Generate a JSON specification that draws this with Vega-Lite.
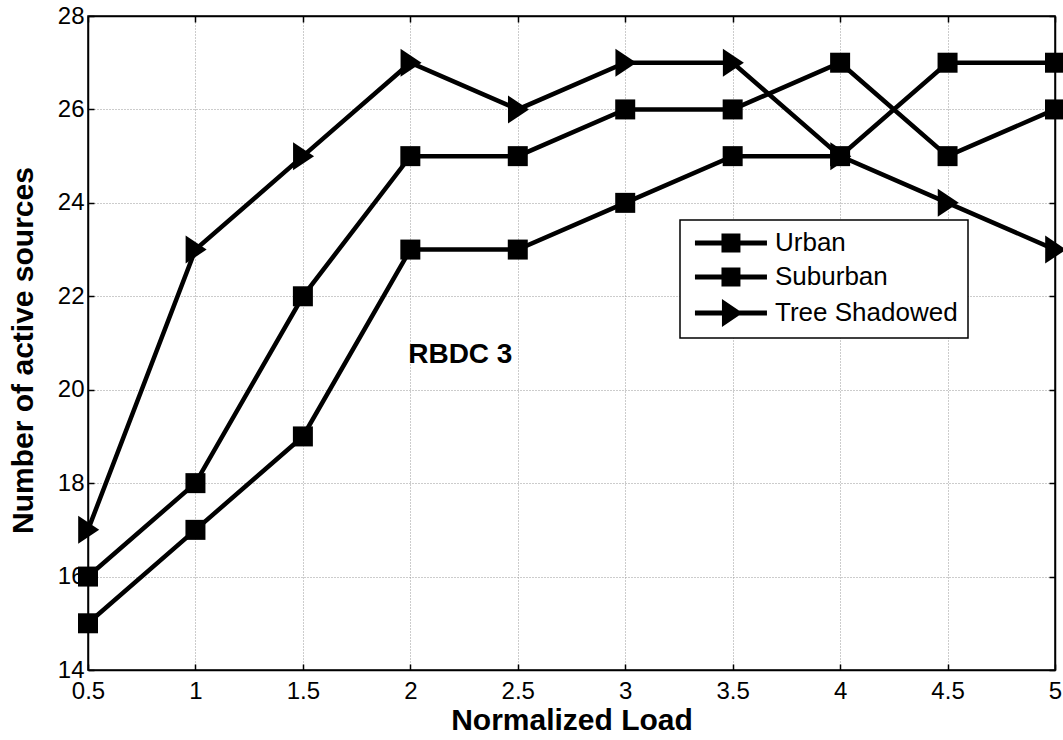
{
  "$schema": "https://vega.github.io/schema/vega-lite/v6.json",
  "width": 967,
  "height": 654,
  "autosize": {"type": "none"},
  "padding": {"left": 88, "top": 16, "right": 8, "bottom": 70},
  "background": "white",
  "config": {
    "font": "Liberation Sans",
    "view": {"stroke": "black", "strokeWidth": 1.5},
    "axis": {
      "labelFont": "Liberation Sans", "labelFontSize": 24, "labelColor": "black",
      "titleFont": "Liberation Sans", "titleFontSize": 30, "titleFontWeight": "bold", "titleColor": "black",
      "tickColor": "black", "tickSize": -6, "tickWidth": 1.5,
      "domainColor": "black", "domainWidth": 1.5,
      "gridColor": "#999999", "gridDash": [1, 2], "gridWidth": 1, "gridOpacity": 1
    },
    "legend": {"strokeWidth": 1.5}
  },
  "datasets": {
    "main": [
      {"load": 0.5, "value": 16, "series": "Urban"},
      {"load": 1, "value": 18, "series": "Urban"},
      {"load": 1.5, "value": 22, "series": "Urban"},
      {"load": 2, "value": 25, "series": "Urban"},
      {"load": 2.5, "value": 25, "series": "Urban"},
      {"load": 3, "value": 26, "series": "Urban"},
      {"load": 3.5, "value": 26, "series": "Urban"},
      {"load": 4, "value": 27, "series": "Urban"},
      {"load": 4.5, "value": 25, "series": "Urban"},
      {"load": 5, "value": 26, "series": "Urban"},
      {"load": 0.5, "value": 15, "series": "Suburban"},
      {"load": 1, "value": 17, "series": "Suburban"},
      {"load": 1.5, "value": 19, "series": "Suburban"},
      {"load": 2, "value": 23, "series": "Suburban"},
      {"load": 2.5, "value": 23, "series": "Suburban"},
      {"load": 3, "value": 24, "series": "Suburban"},
      {"load": 3.5, "value": 25, "series": "Suburban"},
      {"load": 4, "value": 25, "series": "Suburban"},
      {"load": 4.5, "value": 27, "series": "Suburban"},
      {"load": 5, "value": 27, "series": "Suburban"},
      {"load": 0.5, "value": 17, "series": "Tree Shadowed"},
      {"load": 1, "value": 23, "series": "Tree Shadowed"},
      {"load": 1.5, "value": 25, "series": "Tree Shadowed"},
      {"load": 2, "value": 27, "series": "Tree Shadowed"},
      {"load": 2.5, "value": 26, "series": "Tree Shadowed"},
      {"load": 3, "value": 27, "series": "Tree Shadowed"},
      {"load": 3.5, "value": 27, "series": "Tree Shadowed"},
      {"load": 4, "value": 25, "series": "Tree Shadowed"},
      {"load": 4.5, "value": 24, "series": "Tree Shadowed"},
      {"load": 5, "value": 23, "series": "Tree Shadowed"}
    ],
    "note": [{"x": 1.99, "y": 20.75, "label": "RBDC 3"}]
  },
  "layer": [
    {
      "data": {"name": "main"},
      "mark": {"type": "line", "color": "black", "strokeWidth": 4.5},
      "encoding": {
        "x": {
          "field": "load", "type": "quantitative",
          "scale": {"domain": [0.5, 5], "nice": false, "zero": false},
          "axis": {
            "orient": "bottom", "values": [0.5, 1, 1.5, 2, 2.5, 3, 3.5, 4, 4.5, 5], "format": "~g",
            "title": "Normalized Load", "labelPadding": 15, "labelFlush": false,
            "titleY": 59, "titleBaseline": "alphabetic", "grid": true
          }
        },
        "y": {
          "field": "value", "type": "quantitative",
          "scale": {"domain": [14, 28], "nice": false, "zero": false},
          "axis": {
            "orient": "left", "values": [14, 16, 18, 20, 22, 24, 26, 28],
            "title": "Number of active sources", "labelPadding": 10, "labelFlush": false,
            "titleX": -56, "titleY": 334, "titleBaseline": "alphabetic", "titleAlign": "center", "grid": true
          }
        },
        "detail": {"field": "series"}
      }
    },
    {
      "data": {"name": "main"},
      "transform": [{"filter": "datum.series !== 'Tree Shadowed'"}],
      "mark": {"type": "point", "shape": "square", "filled": true, "color": "black", "opacity": 1, "size": 400, "strokeWidth": 0},
      "encoding": {
        "x": {"field": "load", "type": "quantitative", "axis": null},
        "y": {"field": "value", "type": "quantitative", "axis": null}
      }
    },
    {
      "data": {"name": "main"},
      "transform": [{"filter": "datum.series === 'Tree Shadowed'"}],
      "mark": {"type": "point", "shape": "M-0.7,-1L0.8,0L-0.7,1Z", "filled": true, "color": "black", "opacity": 1, "size": 784, "strokeWidth": 0},
      "encoding": {
        "x": {"field": "load", "type": "quantitative", "axis": null},
        "y": {"field": "value", "type": "quantitative", "axis": null}
      }
    },
    {
      "data": {"name": "main"},
      "transform": [{"filter": "datum.load > 100"}],
      "mark": {"type": "point", "filled": true, "color": "black", "strokeWidth": 0, "opacity": 1, "size": 576},
      "encoding": {
        "x": {"field": "load", "type": "quantitative", "axis": null},
        "y": {"field": "value", "type": "quantitative", "axis": null},
        "shape": {
          "field": "series", "type": "nominal",
          "scale": {
            "domain": ["Urban", "Suburban", "Tree Shadowed"],
            "range": [
              "M-0.67,-0.2H5.33V0.2H-0.67ZM1.54,-0.79H3.12V0.79H1.54Z",
              "M-0.67,-0.2H5.33V0.2H-0.67ZM1.54,-0.79H3.12V0.79H1.54Z",
              "M-0.67,-0.2H5.33V0.2H-0.67ZM1.58,-1.17L3.3,0L1.58,1.17Z"
            ]
          },
          "legend": {
            "orient": "none", "legendX": 592, "legendY": 204, "title": null,
            "symbolSize": 576, "symbolStrokeWidth": 0, "symbolFillColor": "black", "symbolOpacity": 1,
            "labelFontSize": 26, "labelFont": "Liberation Sans", "labelColor": "black", "labelOffset": 59, "labelLimit": 400,
            "padding": 10, "strokeColor": "black", "fillColor": "white", "cornerRadius": 0, "rowPadding": 8
          }
        }
      }
    },
    {
      "data": {"name": "note"},
      "mark": {"type": "text", "align": "left", "baseline": "middle", "font": "Liberation Sans", "fontSize": 28, "fontWeight": "bold", "color": "black"},
      "encoding": {
        "x": {"field": "x", "type": "quantitative", "axis": {"orient": "top", "labels": false, "title": null, "grid": false, "values": [0.5, 1, 1.5, 2, 2.5, 3, 3.5, 4, 4.5, 5]}},
        "y": {"field": "y", "type": "quantitative", "axis": {"orient": "right", "labels": false, "title": null, "grid": false, "values": [14, 16, 18, 20, 22, 24, 26, 28]}},
        "text": {"field": "label"}
      }
    }
  ],
  "resolve": {"axis": {"x": "independent", "y": "independent"}}
}
